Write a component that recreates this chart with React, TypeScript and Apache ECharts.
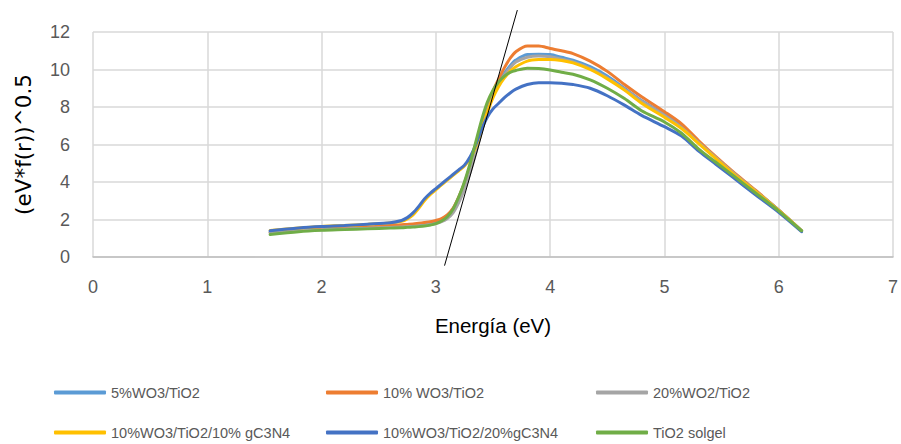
import React, { useEffect, useRef } from "react";
import * as echarts from "echarts";

const energy = [1.55, 1.8, 2.0, 2.2, 2.4, 2.6, 2.7, 2.75, 2.8, 2.85, 2.9, 2.95, 3.0, 3.05, 3.1, 3.15, 3.2, 3.25, 3.3, 3.35, 3.4, 3.45, 3.5, 3.55, 3.6, 3.65, 3.7, 3.8, 3.9, 4.0, 4.1, 4.2, 4.35, 4.5, 4.65, 4.8, 5.0, 5.15, 5.3, 5.45, 5.6, 5.8, 6.0, 6.2];

const wo3_5 = [1.35, 1.45, 1.5, 1.54, 1.58, 1.63, 1.66, 1.68, 1.7, 1.72, 1.75, 1.8, 1.86, 1.98, 2.2, 2.55, 3.15, 3.9, 4.8, 5.85, 6.95, 7.95, 8.75, 9.3, 9.8, 10.2, 10.5, 10.8, 10.82, 10.8, 10.65, 10.5, 10.15, 9.65, 9.0, 8.35, 7.6, 6.95, 6.1, 5.3, 4.5, 3.5, 2.5, 1.4];
const wo3_10 = [1.3, 1.42, 1.5, 1.55, 1.6, 1.68, 1.72, 1.74, 1.76, 1.8, 1.84, 1.88, 1.95, 2.05, 2.25, 2.6, 3.2, 3.95, 4.85, 5.9, 7.0, 8.0, 8.85, 9.5, 10.1, 10.6, 10.95, 11.25, 11.25, 11.12, 11.0, 10.85, 10.45, 9.9, 9.2, 8.55, 7.75, 7.1, 6.2, 5.35, 4.55, 3.55, 2.5, 1.4];
const wo2_20 = [1.3, 1.4, 1.45, 1.5, 1.53, 1.58, 1.6, 1.62, 1.63, 1.65, 1.68, 1.72, 1.78, 1.88, 2.05, 2.35, 2.9, 3.6, 4.5, 5.55, 6.7, 7.75, 8.6, 9.2, 9.7, 10.1, 10.4, 10.65, 10.72, 10.68, 10.55, 10.4, 10.05, 9.55, 8.95, 8.3, 7.55, 6.9, 6.1, 5.3, 4.5, 3.5, 2.5, 1.4];
const gc3n4_10 = [1.42, 1.55, 1.63, 1.68, 1.74, 1.82, 1.9, 2.03, 2.25, 2.6, 3.0, 3.32, 3.58, 3.85, 4.1, 4.35, 4.6, 4.85, 5.25, 5.9, 6.8, 7.7, 8.5, 9.1, 9.55, 9.9, 10.15, 10.45, 10.53, 10.54, 10.48, 10.35, 10.0, 9.5, 8.9, 8.2, 7.45, 6.85, 6.05, 5.25, 4.45, 3.48, 2.48, 1.4];
const gc3n4_20 = [1.4, 1.55, 1.63, 1.68, 1.75, 1.83, 1.95, 2.1, 2.35, 2.7, 3.1, 3.4, 3.65, 3.9, 4.15, 4.4, 4.65, 4.9, 5.35, 6.0, 6.8, 7.45, 7.9, 8.2, 8.5, 8.75, 8.95, 9.2, 9.3, 9.3, 9.27, 9.2, 9.0, 8.6, 8.1, 7.55, 6.95, 6.45, 5.65, 4.95, 4.25, 3.3, 2.38, 1.35];
const tio2 = [1.2, 1.35, 1.42, 1.46, 1.5, 1.54, 1.56, 1.58, 1.6, 1.62, 1.65, 1.7, 1.78, 1.92, 2.15, 2.55, 3.2, 4.0, 5.0, 6.15, 7.3, 8.25, 8.9, 9.35, 9.65, 9.85, 9.95, 10.07, 10.05, 9.97, 9.85, 9.75, 9.45, 9.0, 8.45, 7.8, 7.2, 6.6, 5.75, 5.05, 4.35, 3.4, 2.45, 1.4];

const tangentX = [3.076, 3.713];
const tangentY = [-0.46, 13.17];

const seriesNames = ["5%WO3/TiO2", "10% WO3/TiO2", "20%WO2/TiO2", "10%WO3/TiO2/10% gC3N4", "10%WO3/TiO2/20%gC3N4", "TiO2 solgel"];
const seriesValues = [wo3_5, wo3_10, wo2_20, gc3n4_10, gc3n4_20, tio2];
const seriesColors = ["#5B9BD5", "#ED7D31", "#A5A5A5", "#FFC000", "#4472C4", "#70AD47"];

const xTicks = { min: 0, max: 7, interval: 1 };
const yTicks = { min: 0, max: 12, interval: 2 };

const FONT = "Liberation Sans";

export default function App() {
  const ref = useRef<HTMLDivElement>(null);
  useEffect(() => {
    if (!ref.current) return;
    const chart = echarts.init(ref.current, null, { renderer: "svg" });
    const lineSeries = seriesNames.map((name, i) => ({
      name,
      type: "line",
      data: energy.map((x, j) => [x, seriesValues[i][j]]),
      smooth: 0.3,
      showSymbol: false,
      symbol: "none",
      lineStyle: { color: seriesColors[i], width: 3, cap: "round" },
      itemStyle: { color: seriesColors[i] },
      z: 2 + i,
    }));
    const colLeft = [49, 321, 591];
    const rowTop = [380, 420];
    const legends = seriesNames.map((name, i) => ({
      orient: "horizontal",
      left: colLeft[i % 3],
      top: rowTop[Math.floor(i / 3)],
      itemWidth: 52,
      itemHeight: 4,
      icon: "roundRect",
      data: [name],
      textStyle: { color: "#595959", fontSize: 14.5, fontFamily: FONT },
    }));
    chart.setOption({
      animation: false,
      backgroundColor: "#ffffff",
      grid: { left: 93, right: 3, top: 32, bottom: 187, containLabel: false },
      xAxis: {
        type: "value",
        ...xTicks,
        name: "Energía (eV)",
        nameLocation: "middle",
        nameGap: 58,
        nameTextStyle: { color: "#000000", fontSize: 20.5, fontFamily: FONT },
        axisLine: { show: true, lineStyle: { color: "#bfbfbf", width: 1.5 } },
        axisTick: { show: false },
        axisLabel: { color: "#595959", fontSize: 18, fontFamily: FONT, margin: 21 },
        splitLine: { show: true, lineStyle: { color: "#d9d9d9", width: 1.5 } },
      },
      yAxis: {
        type: "value",
        ...yTicks,
        name: "(eV*f(r))^0.5",
        nameLocation: "middle",
        nameRotate: 90,
        nameGap: 59,
        nameTextStyle: { color: "#000000", fontSize: 21.5, fontFamily: "DejaVu Sans" },
        axisLine: { show: false },
        axisTick: { show: false },
        axisLabel: { color: "#595959", fontSize: 18, fontFamily: FONT, margin: 23 },
        splitLine: { show: true, lineStyle: { color: "#d9d9d9", width: 1.5 } },
      },
      legend: legends,
      series: [
        ...lineSeries,
        {
          name: "tangent",
          type: "line",
          data: tangentX.map((x, j) => [x, tangentY[j]]),
          showSymbol: false,
          symbol: "none",
          clip: false,
          silent: true,
          lineStyle: { color: "#000000", width: 1 },
          z: 20,
        },
      ],
    });
    return () => chart.dispose();
  }, []);
  return <div ref={ref} style={{ width: 901, height: 444, position: "absolute", left: 0, top: 0 }} />;
}
